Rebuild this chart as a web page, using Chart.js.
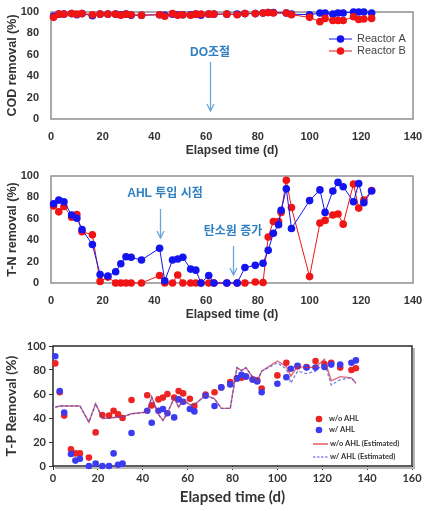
<!DOCTYPE html>
<html><head><meta charset="utf-8">
<script src="https://cdn.jsdelivr.net/npm/chart.js@4.4.1/dist/chart.umd.min.js"></script>
<style>
html,body{margin:0;padding:0;background:#fff;}
.box{position:absolute;left:0;width:433px;}
</style></head><body>
<div class="box" style="top:0;height:165px"><canvas id="c1"></canvas></div>
<div class="box" style="top:165px;height:165px"><canvas id="c2"></canvas></div>
<div class="box" style="top:330px;height:181px"><canvas id="c3"></canvas></div>
<script>
// ---------- Chart 1: COD removal ----------
const codDays = [1,3,5,8,10,12,16,19,22,25,27,29,31,35,42,44,47,49,51,54,56,58,61,63,68,72,75,79,82,84,86,91,93,100,104,106,109,111,113,117,119,121,124];
const codA = [96,98,98,98.5,97.5,98.5,96.5,98,98,98,97.5,98,97,97,97.5,97,98,97.5,97.5,97.5,98,97,98,98,98,98,98.5,98.5,99,99.5,99.5,99,98,97.5,99,99,98,99,99,100,100,100,99];
const codB = [95,98,98,98.5,98,98.5,97.5,98,98,98,97,98,97.5,97,97.5,96,98.5,97,97.5,97,98,98,98,98,98,97.5,98.5,98.5,99,99.5,99,99,97.5,95,91,94,92,92,92,95.5,93,93.5,94];
const codNotes = [{text:'DO조절', tx:61.5, ty:61.7, ax:61.5, from:53.3, to:7.5}];

// ---------- Chart 2: T-N removal ----------
const tnDays = [1,3,5,8,10,12,16,19,22,25,27,29,31,35,42,44,47,49,51,54,56,58,61,63,68,72,75,79,82,84,86,88,89,91,93,100,104,106,109,111,113,117,119,121,124];
const tnA = [74,77.5,76,63.5,60.5,50,36,8,6.5,10.5,18,24.5,24,21.5,32.5,2,21.5,22.5,24,13,12,0,7,0,0,0,14.5,16.5,18.5,30.5,46.5,54.5,68,88,51,77,87,66,86,94,90,76,93,75,86];
const tnB = [72,66.5,71.5,61.5,64,48,45,1.5,5.5,0,0,0,0,0,7,0,0,7.5,0,0,0,0,0,0,0,0,0,1,0.5,43,57.5,57.5,66,96,70.5,6,56,58.5,63.5,64.5,55,92.5,70,77.5,86.5];
const tnNotes = [
  {text:'AHL 투입 시점', tx:44.1, ty:83.2, ax:42.2, from:69.2, to:42.1},
  {text:'탄소원 증가', tx:70.4, ty:47.7, ax:70.4, from:34.6, to:7.5}
];

// ---------- Chart 3: T-P removal ----------
const tpDays = [1,3,5,8,10,12,16,19,22,25,27,29,31,35,42,44,47,49,51,54,56,58,61,63,68,72,75,79,82,84,86,89,91,93,100,104,106,109,113,117,121,124,128,133,135];
const tpWo = [85.5,61.5,42,14,10.5,10.5,7,28,42.5,42,46,43,40,55,59,50.5,55.5,57,60,57,62.5,60.5,56,50,59.5,61.5,65.5,70,73,73.5,74.5,72,71.5,64.5,75.5,86,null,83,82.5,87.5,85,86,82,80,81.5];
const tpW = [91.5,62.5,44.5,10,4.5,6,0,2,0,0,10.5,1,2,27.5,46,36,46,47.5,44,40.5,55.5,53.5,47.5,45.5,58.5,50,65.5,68,73,76,74.5,72,70.5,61.5,68.5,74,81,83.5,82,82,82.5,84.5,84.5,86,88];
const estDays = [1,3,8,12,16,19,22,25,31,35,42,44,47,49,51,54,56,58,61,63,68,72,75,79,82,84,86,89,91,93,100,104,106,109,113,117,121,124,128,133,135];
const estWo = [49,50,50,50,36.5,52,39.5,40,41,43.5,45,57.5,43,38,44,57,49,55,51,51,59,56,48,48,82,79.5,82,74,70.5,79,87.5,83,75,83,82,82.5,89,71,74.5,73.5,69];
const estW  = [49,50,50,50,36.5,52,39.5,40,41,43.5,45,57.5,43,38,44,57,49,55,51,51,59,56,48,48,82,79.5,82,74,70.5,79,86,81,69,79,77,79,86,67.5,72,73.5,69];

const BLUE = '#1414f0', RED = '#f01414';
const BLUE3 = '#3b3bf2', RED3 = '#ec2424';
const ARIAL = "'Liberation Sans', Arial, 'Noto Sans CJK KR', sans-serif";
const CAL = "Lato, 'Liberation Sans', sans-serif";

function pts(days, vals){
  const out = [];
  days.forEach((d,i)=>{ if(vals[i]!=null) out.push({x:d, y:vals[i]}); });
  return out;
}

const framePlugin = {
  id:'frame',
  beforeDatasetsDraw(chart, args, o){
    const a = chart.chartArea, ctx = chart.ctx;
    ctx.save();
    if (o.shadow){
      ctx.strokeStyle = o.shadow; ctx.lineWidth = 2;
      ctx.beginPath();
      ctx.moveTo(a.right+2, a.top+2); ctx.lineTo(a.right+2, a.bottom+2); ctx.lineTo(a.left+2, a.bottom+2);
      ctx.stroke();
    }
    ctx.strokeStyle = o.color; ctx.lineWidth = o.width;
    ctx.strokeRect(a.left, a.top, a.right-a.left, a.bottom-a.top);
    ctx.restore();
  }
};

const notesPlugin = {
  id:'notes',
  afterDatasetsDraw(chart, args, o){
    const ctx = chart.ctx, x = chart.scales.x, y = chart.scales.y;
    (o.items||[]).forEach(n=>{
      ctx.save();
      ctx.font = "bold 12px " + ARIAL;
      ctx.fillStyle = '#2f7fc1'; ctx.textAlign = 'center'; ctx.textBaseline = 'middle';
      ctx.fillText(n.text, x.getPixelForValue(n.tx), y.getPixelForValue(n.ty));
      const ax = Math.round(x.getPixelForValue(n.ax)) + 0.5;
      const y1 = y.getPixelForValue(n.from), y2 = y.getPixelForValue(n.to);
      ctx.strokeStyle = '#6aa6da'; ctx.lineWidth = 1.3;
      ctx.beginPath(); ctx.moveTo(ax, y1); ctx.lineTo(ax, y2); ctx.stroke();
      ctx.beginPath(); ctx.moveTo(ax-3.5, y2-7); ctx.lineTo(ax, y2); ctx.lineTo(ax+3.5, y2-7); ctx.stroke();
      ctx.restore();
    });
  }
};

const keyPlugin = {
  id:'keys',
  afterDraw(chart, args, o){
    const ctx = chart.ctx;
    (o.items||[]).forEach(k=>{
      ctx.save();
      if (k.line){
        ctx.strokeStyle = k.color; ctx.lineWidth = k.lw || 1;
        if (k.dash) ctx.setLineDash(k.dash);
        ctx.beginPath(); ctx.moveTo(k.x1, k.y); ctx.lineTo(k.x2, k.y); ctx.stroke();
        ctx.setLineDash([]);
      }
      if (k.dot){
        ctx.fillStyle = k.color;
        ctx.beginPath(); ctx.arc(k.cx, k.y, k.r, 0, Math.PI*2); ctx.fill();
      }
      ctx.font = k.font; ctx.fillStyle = k.textColor || '#333';
      ctx.textAlign = 'left'; ctx.textBaseline = 'middle';
      ctx.fillText(k.label, k.tx, k.y);
      ctx.restore();
    });
  }
};

Chart.register(framePlugin, notesPlugin, keyPlugin);
Chart.defaults.font.family = ARIAL;
Chart.defaults.color = '#333';

function scales12(xMax, xH, yW, titleBottom){
  return {
    x:{type:'linear', min:0, max:xMax,
       ticks:{stepSize:20, padding:3, color:'#333', font:{size:11, weight:'bold'}},
       grid:{display:false}, border:{display:false},
       title:{display:true, text:'Elapsed time (d)', color:'#333', font:{size:12, weight:'bold'}, padding:{top:0,bottom:titleBottom}},
       afterFit(s){ s.height = xH; }},
    y:{min:0, max:100,
       ticks:{stepSize:20, padding:4, color:'#333', font:{size:11, weight:'bold'}},
       grid:{display:false}, border:{display:false},
       title:{display:true, text:'', color:'#333', font:{size:12.5, weight:'bold'}, padding:{top:5,bottom:0}},
       afterFit(s){ s.width = yW; }}
  };
}

// Chart 1
(function(){
  const sc = scales12(140, 46, 51, 7);
  sc.y.title.text = 'COD removal (%)';
  new Chart(document.getElementById('c1'), {
    type:'line',
    data:{datasets:[
      {label:'Reactor A', data:pts(codDays, codA), borderColor:BLUE, backgroundColor:BLUE, borderWidth:1, pointRadius:3.8, pointBorderWidth:0, clip:false, order:2},
      {label:'Reactor B', data:pts(codDays, codB), borderColor:RED, backgroundColor:RED, borderWidth:1, pointRadius:3.8, pointBorderWidth:0, clip:false, order:1}
    ]},
    options:{
      animation:false, responsive:true, maintainAspectRatio:false, events:[],
      layout:{autoPadding:false, padding:{left:0, right:20, top:12, bottom:0}},
      plugins:{legend:{display:false}, tooltip:{enabled:false},
        frame:{color:'#8f8f8f', width:1.5},
        notes:{items:codNotes},
        keys:{items:[
          {line:true, dot:true, color:BLUE, x1:329, x2:352, cx:340.5, r:3.8, y:39, tx:357, label:'Reactor A', font:"11px "+ARIAL, textColor:'#444'},
          {line:true, dot:true, color:RED, x1:329, x2:352, cx:340.5, r:3.8, y:51, tx:357, label:'Reactor B', font:"11px "+ARIAL, textColor:'#444'}
        ]}
      },
      scales:sc
    }
  });
})();

// Chart 2
(function(){
  const sc = scales12(140, 47, 51, 8);
  sc.y.title.text = 'T-N removal (%)';
  new Chart(document.getElementById('c2'), {
    type:'line',
    data:{datasets:[
      {label:'A', data:pts(tnDays, tnA), borderColor:BLUE, backgroundColor:BLUE, borderWidth:1, pointRadius:3.8, pointBorderWidth:0, clip:false, order:1},
      {label:'B', data:pts(tnDays, tnB), borderColor:RED, backgroundColor:RED, borderWidth:1, pointRadius:3.8, pointBorderWidth:0, clip:false, order:2}
    ]},
    options:{
      animation:false, responsive:true, maintainAspectRatio:false, events:[],
      layout:{autoPadding:false, padding:{left:0, right:20, top:11, bottom:0}},
      plugins:{legend:{display:false}, tooltip:{enabled:false},
        frame:{color:'#8f8f8f', width:1.5},
        notes:{items:tnNotes}
      },
      scales:sc
    }
  });
})();

// Chart 3
(function(){
  new Chart(document.getElementById('c3'), {
    type:'line',
    data:{datasets:[
      {label:'w/o AHL', data:pts(tpDays, tpWo), showLine:false, backgroundColor:RED3, borderColor:RED3, pointRadius:3.3, pointBorderWidth:0, clip:false, order:4},
      {label:'w/ AHL', data:pts(tpDays, tpW), showLine:false, backgroundColor:BLUE3, borderColor:BLUE3, pointRadius:3.3, pointBorderWidth:0, clip:false, order:3},
      {label:'w/o AHL (Estimated)', data:pts(estDays, estWo), borderColor:'rgba(210,40,60,0.7)', borderWidth:1.4, pointRadius:0, clip:false, order:2},
      {label:'w/ AHL (Estimated)', data:pts(estDays, estW), borderColor:'rgba(70,70,220,0.7)', borderWidth:1.3, borderDash:[3,2], pointRadius:0, clip:false, order:1}
    ]},
    options:{
      animation:false, responsive:true, maintainAspectRatio:false, events:[],
      layout:{autoPadding:false, padding:{left:0, right:21, top:16, bottom:0}},
      plugins:{legend:{display:false}, tooltip:{enabled:false},
        frame:{color:'#2a2a2a', width:1.5, shadow:'#b8b8b8'},
        keys:{items:[
          {dot:true, color:RED3, cx:319, r:3.3, y:89, tx:329, label:'w/o AHL', font:"bold 7.5px "+CAL},
          {dot:true, color:BLUE3, cx:319, r:3.3, y:100, tx:329, label:'w/ AHL', font:"bold 7.5px "+CAL},
          {line:true, color:'#e03030', lw:1.2, x1:313, x2:328, y:114, tx:330, label:'w/o AHL (Estimated)', font:"bold 7.5px "+CAL},
          {line:true, color:'#5050d8', lw:1.2, dash:[2.5,1.5], x1:313, x2:328, y:127, tx:330, label:'w/ AHL (Estimated)', font:"bold 7.5px "+CAL}
        ]}
      },
      scales:{
        x:{type:'linear', min:0, max:160,
           ticks:{stepSize:20, padding:2, color:'#333', font:{family:CAL, size:11, weight:'bold'}},
           grid:{display:true, drawOnChartArea:false, drawTicks:true, tickLength:4, color:'#333'}, border:{display:false},
           title:{display:true, text:'Elapsed time (d)', color:'#333', font:{family:CAL, size:15, weight:'bold'}, padding:{top:0,bottom:5}},
           afterFit(s){ s.height = 45; }},
        y:{min:0, max:100,
           ticks:{stepSize:20, padding:3, color:'#333', font:{family:CAL, size:11, weight:'bold'}},
           grid:{display:true, drawOnChartArea:false, drawTicks:true, tickLength:4, color:'#333'}, border:{display:false},
           title:{display:true, text:'T-P Removal (%)', color:'#333', font:{family:CAL, size:14, weight:'bold'}, padding:{top:3,bottom:0}},
           afterFit(s){ s.width = 53; }}
      }
    }
  });
})();
</script>
</body></html>
